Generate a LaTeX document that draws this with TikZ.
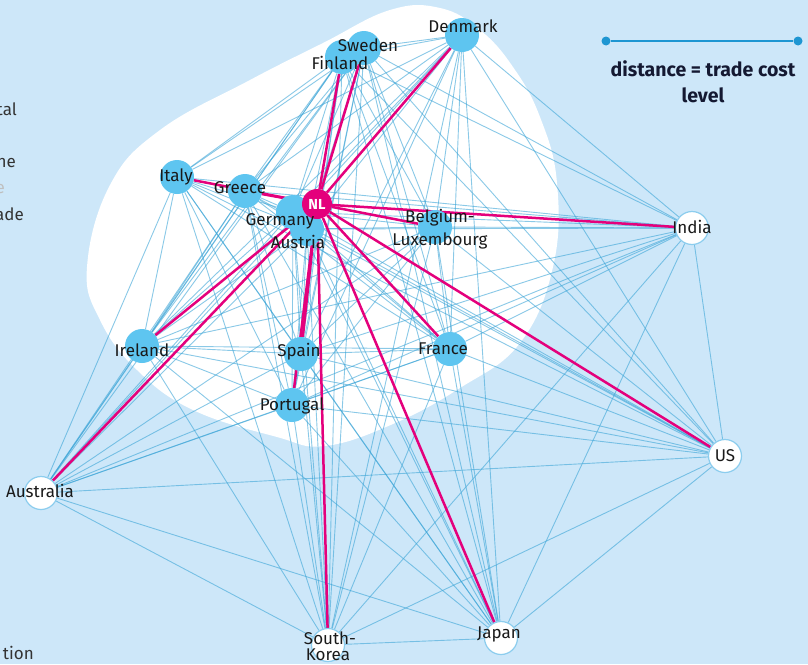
\documentclass[tikz,border=0pt]{standalone}
\usepackage{fontspec}
\setmainfont{Fira Sans}

\definecolor{bgblue}{RGB}{205,231,249}
\definecolor{nodeblue}{RGB}{94,197,240}
\definecolor{edgeblue}{RGB}{60,165,215}
\definecolor{nlpink}{RGB}{228,0,124}
\definecolor{ringblue}{RGB}{140,205,238}
\definecolor{legblue}{RGB}{30,150,210}
\definecolor{txtdark}{RGB}{25,25,25}
\definecolor{navy}{RGB}{20,25,50}

\pgfdeclarelayer{back}
\pgfdeclarelayer{links}
\pgfsetlayers{back,links,main}

\begin{document}
\begin{tikzpicture}[
    x=1pt, y=-1pt,
    % Landen in de EU (blauw) en daarbuiten (wit)
    eu/.style={circle, fill=nodeblue, minimum size=34pt, inner sep=0pt},
    world/.style={circle, fill=white, draw=ringblue, line width=1.2pt, minimum size=33pt, inner sep=0pt},
    nlnode/.style={circle, fill=nlpink, minimum size=30pt, inner sep=0pt, text=white, font=\bfseries\fontsize{14.5}{16}\selectfont},
    % Tekst bij de landen
    lbl/.style={text=txtdark, font=\fontsize{17}{19}\selectfont, inner sep=0pt},
    % Handelsrelaties
    trade/.style={edgeblue, line width=0.9pt, opacity=0.6},
    nltrade/.style={nlpink, line width=2.5pt},
    legdot/.style={circle, fill=legblue, minimum size=9pt, inner sep=0pt},
    legtxt/.style={text=navy, font=\bfseries\fontsize{19.5}{22}\selectfont, anchor=base}
]
    \useasboundingbox (0,0) rectangle (808,664);

    % ==========================================
    % ACHTERGROND
    % ==========================================
    \begin{pgfonlayer}{back}
        \fill[bgblue] (0,0) rectangle (808,664);
        % Witte vlek rond de Europese landen
        \fill[white] plot[smooth cycle, tension=0.7] coordinates {
            (87,267) (100,320) (137,370) (193,410) (277,437) (325,446) (393,424)
            (460,388) (520,343) (553,267) (557,183) (540,117) (513,67) (480,30)
            (440,8) (390,10) (323,43) (250,80) (160,130) (110,185)};
    \end{pgfonlayer}

    % Afgekapte tekst links
    \node[lbl, text=black!80, anchor=base east] (frag1) at (17,115) {tal};
    \node[lbl, text=black!80, anchor=base east] (frag2) at (16,167) {he};
    \node[lbl, text=black!25, anchor=base east] (frag3) at (5,193) {e};
    \node[lbl, text=black!80, anchor=base east] (frag4) at (24,220) {ade};
    \node[lbl, text=black!80, anchor=base east] (frag5) at (34,659) {tion};

    % ==========================================
    % LANDEN
    % ==========================================
    \node[eu] (dk) at (462,35) {};
    \node[eu] (fi) at (342,57) {};
    \node[eu] (se) at (364,48) {};
    \node[eu] (it) at (177,177) {};
    \node[eu] (gr) at (245,191) {};
    \node[eu] (de) at (293,212) {};
    \node[eu] (at) at (307,229) {};
    \node[eu] (be) at (435,227) {};
    \node[eu] (ie) at (142,346) {};
    \node[eu] (es) at (301,354) {};
    \node[eu] (pt) at (292,405) {};
    \node[eu] (fr) at (450,349) {};
    \node[world] (in) at (692,228) {};
    \node[world] (us) at (725,456) {};
    \node[world] (au) at (41,493) {};
    \node[world] (kr) at (328,645) {};
    \node[world] (jp) at (501,638) {};
    \node[nlnode] (nl) at (317,204) {NL};

    % Alle onderlinge verbindingen
    \begin{pgfonlayer}{links}
        \foreach \a [count=\i] in {dk,fi,se,it,gr,de,at,be,ie,es,pt,fr,in,us,au,kr,jp} {
            \foreach \b [count=\j] in {dk,fi,se,it,gr,de,at,be,ie,es,pt,fr,in,us,au,kr,jp} {
                \ifnum\j>\i \draw[trade] (\a) -- (\b); \fi
            }
        }
        % Verbindingen van Nederland
        \foreach \b in {dk,fi,se,it,gr,de,at,be,ie,es,pt,fr,in,us,au,kr,jp}
            \draw[nltrade] (nl) -- (\b);
    \end{pgfonlayer}

    % Namen
    \node[lbl] (dk-l) at (463,26) {Denmark};
    \node[lbl] (se-l) at (368,45) {Sweden};
    \node[lbl] (fi-l) at (340,63) {Finland};
    \node[lbl] (it-l) at (176,177) {Italy};
    \node[lbl] (gr-l) at (240,188) {Greece};
    \node[lbl] (de-l) at (280,221) {Germany};
    \node[lbl] (at-l) at (298,242) {Austria};
    \node[lbl] (be-l) at (440,218) {Belgium-};
    \node[lbl] (lu-l) at (440,241) {Luxembourg};
    \node[lbl] (ie-l) at (142,350) {Ireland};
    \node[lbl] (es-l) at (299,352) {Spain};
    \node[lbl] (pt-l) at (292,406) {Portugal};
    \node[lbl] (fr-l) at (443,349) {France};
    \node[lbl] (in-l) at (692,227) {India};
    \node[lbl] (us-l) at (725,456) {US};
    \node[lbl] (au-l) at (40,491) {Australia};
    \node[lbl] (kr-l) at (330,638) {South-};
    \node[lbl] (ko-l) at (328,655) {Korea};
    \node[lbl] (jp-l) at (499,634) {Japan};

    % ==========================================
    % LEGENDA
    % ==========================================
    \node[legdot] (leg-a) at (606,41) {};
    \node[legdot] (leg-b) at (798,41) {};
    \draw[legblue, line width=1.5pt] (leg-a) -- (leg-b);
    \node[legtxt] (leg-t1) at (703,76) {distance = trade cost};
    \node[legtxt] (leg-t2) at (703,102) {level};

\end{tikzpicture}
\end{document}
